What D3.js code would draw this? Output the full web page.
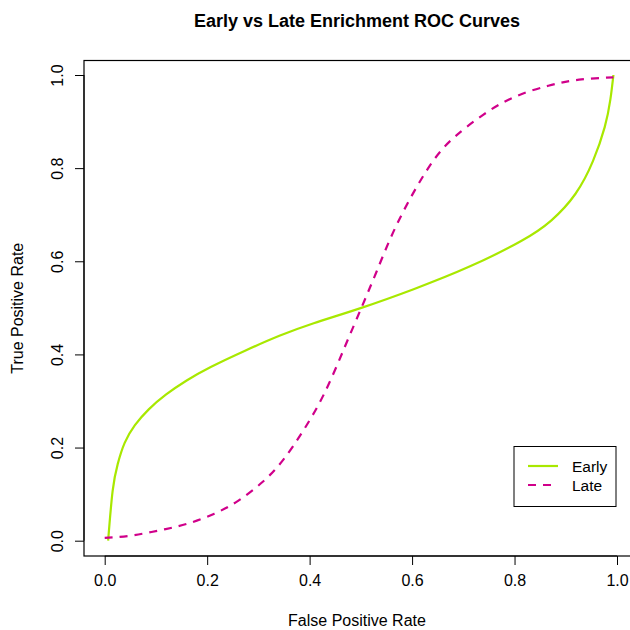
<!DOCTYPE html>
<html>
<head>
<meta charset="utf-8">
<script src="https://cdn.jsdelivr.net/npm/d3@7"></script>
<style>
  body { margin: 0; background: #fff; }
  svg { display: block; font-family: "Liberation Sans", Arial, Helvetica, sans-serif; }
</style>
</head>
<body>
<div id="roc-chart"></div>
<script>
    // ROC curves, false positive rate vs true positive rate
    var early_fpr = [0.0067, 0.0155, 0.0255, 0.039, 0.059, 0.086, 0.120, 0.160, 0.207, 0.274, 0.341, 0.408, 0.501, 0.603, 0.711, 0.812, 0.872, 0.919, 0.953, 0.976, 0.987, 0.993];
    var early_tpr = [0.000, 0.107, 0.165, 0.210, 0.248, 0.282, 0.314, 0.344, 0.373, 0.408, 0.440, 0.467, 0.500, 0.540, 0.588, 0.643, 0.688, 0.745, 0.815, 0.888, 0.947, 1.000];

    var late_fpr = [0.000, 0.052, 0.106, 0.160, 0.214, 0.261, 0.308, 0.348, 0.388, 0.429, 0.469, 0.501, 0.530, 0.563, 0.603, 0.644, 0.684, 0.738, 0.798, 0.866, 0.926, 0.993];
    var late_tpr = [0.006, 0.011, 0.022, 0.036, 0.058, 0.086, 0.126, 0.173, 0.237, 0.317, 0.417, 0.500, 0.576, 0.662, 0.748, 0.820, 0.868, 0.914, 0.952, 0.977, 0.990, 0.995];

    var x_ticks = [0, 0.2, 0.4, 0.6, 0.8, 1.0];
    var y_ticks = [0, 0.2, 0.4, 0.6, 0.8, 1.0];
    var series_names = ['Early', 'Late'];
    var series_colours = ['#a8e800', '#d0008a'];

    var width = 630,
        height = 630,
        box = {left: 84, right: 632, top: 60.5, bottom: 556},
        tick_len = 9,
        line_width = 2.2,
        font_size = '16px';

    var svg = d3.select('#roc-chart').append('svg')
        .attr('width', width)
        .attr('height', height);

    var xScale = d3.scaleLinear().domain([0, 1]).range([104.7, 617]);
    var yScale = d3.scaleLinear().domain([0, 1]).range([540.7, 75]);

    function toPoints(xs, ys) {
        return xs.map(function(x, i) { return {x: x, y: ys[i]}; });
    }

    var roc_line = d3.line()
        .curve(d3.curveNatural)
        .x(function(d) { return xScale(d.x); })
        .y(function(d) { return yScale(d.y); });

    // plot frame
    svg.append('rect')
        .attr('x', box.left)
        .attr('y', box.top)
        .attr('width', box.right - box.left)
        .attr('height', box.bottom - box.top)
        .style('fill', 'none')
        .style('stroke', '#000')
        .style('stroke-width', 1.2);

    var xAxis = d3.axisBottom(xScale)
        .tickValues(x_ticks)
        .tickFormat(d3.format('.1f'))
        .tickSizeInner(tick_len)
        .tickSizeOuter(0);

    var yAxis = d3.axisLeft(yScale)
        .tickValues(y_ticks)
        .tickFormat(d3.format('.1f'))
        .tickSizeInner(tick_len)
        .tickSizeOuter(0);

    var x_axis_elem = svg.append('g')
        .attr('class', 'x axis')
        .attr('transform', 'translate(0,' + box.bottom + ')')
        .call(xAxis);

    x_axis_elem.selectAll('text')
        .style('font-size', font_size)
        .style('fill', '#000')
        .attr('y', 0)
        .attr('dy', 30);

    var y_axis_elem = svg.append('g')
        .attr('class', 'y axis')
        .attr('transform', 'translate(' + box.left + ',0)')
        .call(yAxis);

    y_axis_elem.selectAll('text')
        .style('font-size', font_size)
        .style('fill', '#000')
        .style('text-anchor', 'middle')
        .attr('x', 0)
        .attr('dy', 0)
        .attr('transform', 'translate(-21,0) rotate(-90)');

    svg.selectAll('.axis path.domain').remove();
    svg.selectAll('.axis line')
        .style('stroke', '#000')
        .style('stroke-width', 1);

    // axis line between the outer ticks, drawn over the frame
    svg.append('line')
        .attr('x1', xScale(0)).attr('x2', xScale(1))
        .attr('y1', box.bottom).attr('y2', box.bottom)
        .style('stroke', '#000');
    svg.append('line')
        .attr('x1', box.left).attr('x2', box.left)
        .attr('y1', yScale(0)).attr('y2', yScale(1))
        .style('stroke', '#000');

    // curves
    svg.append('path')
        .attr('class', 'line early')
        .attr('d', roc_line(toPoints(early_fpr, early_tpr)))
        .style('fill', 'none')
        .style('stroke', series_colours[0])
        .style('stroke-width', line_width);

    svg.append('path')
        .attr('class', 'line late')
        .attr('d', roc_line(toPoints(late_fpr, late_tpr)))
        .style('fill', 'none')
        .style('stroke', series_colours[1])
        .style('stroke-width', line_width)
        .style('stroke-dasharray', '8,7');

    // titles
    svg.append('text')
        .attr('x', (box.left + 630) / 2)
        .attr('y', 27)
        .style('text-anchor', 'middle')
        .style('font-weight', 'bold')
        .style('font-size', '18px')
        .text('Early vs Late Enrichment ROC Curves');

    svg.append('text')
        .attr('x', (box.left + 630) / 2)
        .attr('y', 626)
        .style('text-anchor', 'middle')
        .style('font-size', font_size)
        .text('False Positive Rate');

    svg.append('text')
        .attr('transform', 'translate(23,' + ((box.top + box.bottom) / 2) + ') rotate(-90)')
        .style('text-anchor', 'middle')
        .style('font-size', font_size)
        .text('True Positive Rate');

    // legend
    var legend = svg.append('g').attr('class', 'legend');
    legend.append('rect')
        .attr('x', 514)
        .attr('y', 446.5)
        .attr('width', 102)
        .attr('height', 60)
        .style('fill', '#fff')
        .style('stroke', '#000')
        .style('stroke-width', 1);

    series_names.forEach(function(name, i) {
        var ly = 466 + i * 19;
        legend.append('line')
            .attr('x1', 528).attr('x2', 558)
            .attr('y1', ly).attr('y2', ly)
            .style('stroke', series_colours[i])
            .style('stroke-width', line_width)
            .style('stroke-dasharray', i === 1 ? '8,7' : null);
        legend.append('text')
            .attr('x', 572)
            .attr('y', ly + 5.5)
            .style('font-size', '15.5px')
            .text(name);
    });
</script>
</body>
</html>
